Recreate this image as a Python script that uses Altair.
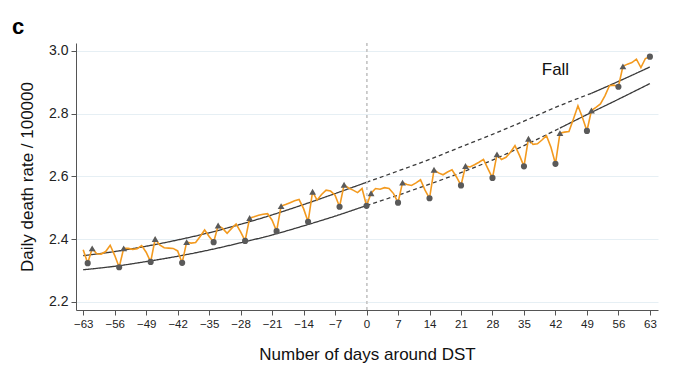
import altair as alt
import pandas as pd

# ---- data ----
days = list(range(-63, 64))
rate = [
    2.366, 2.323, 2.370, 2.353, 2.352, 2.360, 2.380, 2.348, 2.310, 2.370,  # -63..-54
    2.370, 2.367, 2.369, 2.379, 2.358, 2.327, 2.400, 2.381, 2.372, 2.371,  # -53..-44
    2.370, 2.362, 2.324, 2.390, 2.387, 2.389, 2.408, 2.429, 2.408, 2.390,  # -43..-34
    2.443, 2.434, 2.418, 2.434, 2.448, 2.423, 2.394, 2.467, 2.471, 2.476,  # -33..-24
    2.479, 2.481, 2.460, 2.425, 2.505, 2.510, 2.516, 2.522, 2.526, 2.497,  # -23..-14
    2.455, 2.551, 2.524, 2.542, 2.556, 2.553, 2.540, 2.503, 2.573, 2.563,  # -13..-4
    2.556, 2.548, 2.561, 2.506, 2.546, 2.561, 2.559, 2.564, 2.561, 2.545,  # -3..6
    2.516, 2.580, 2.574, 2.571, 2.579, 2.589, 2.556, 2.530, 2.621, 2.611,  # 7..16
    2.605, 2.614, 2.621, 2.598, 2.571, 2.633, 2.630, 2.637, 2.645, 2.654,  # 17..26
    2.624, 2.595, 2.670, 2.654, 2.661, 2.677, 2.698, 2.667, 2.632, 2.720,  # 27..36
    2.702, 2.704, 2.716, 2.730, 2.693, 2.640, 2.738, 2.741, 2.743, 2.783,  # 37..46
    2.825, 2.788, 2.745, 2.810, 2.820, 2.831, 2.857, 2.889, 2.891, 2.886,  # 47..56
    2.951, 2.958, 2.963, 2.974, 2.947, 2.976, 2.982,                       # 57..63
]
circle_days = [-62, -55, -48, -41, -34, -27, -20, -13, -6,
               0, 7, 14, 21, 28, 35, 42, 49, 56, 63]
triangle_days = [-61, -54, -47, -40, -33, -26, -19, -12, -5,
                 1, 8, 15, 22, 29, 36, 43, 50, 57]

upper_days = [-63, -56, -49, -42, -35, -28, -21, -14, -7, 0, 7, 14, 21, 28, 35, 42, 50, 56, 63]
upper_vals = [2.347, 2.360, 2.377, 2.397, 2.420, 2.447, 2.477, 2.510, 2.545, 2.581,
              2.617, 2.654, 2.694, 2.734, 2.776, 2.820, 2.865, 2.903, 2.949]
upper_break = 50
lower_days = [-63, -56, -49, -42, -35, -28, -21, -14, -7, 0, 7, 14, 21, 28, 35, 43, 49, 56, 63]
lower_vals = [2.302, 2.313, 2.328, 2.345, 2.365, 2.388, 2.413, 2.442, 2.473, 2.507,
              2.540, 2.575, 2.612, 2.652, 2.698, 2.754, 2.797, 2.846, 2.896]
lower_break = 43

x_ticks = [-63, -56, -49, -42, -35, -28, -21, -14, -7, 0, 7, 14, 21, 28, 35, 42, 49, 56, 63]
y_ticks = [2.2, 2.4, 2.6, 2.8, 3.0]
annot_text = ["Fall"]
annot_day = [42.0]
annot_val = [2.94]

# ---- tables ----
daily = pd.DataFrame({"day": days, "rate": rate})
circles = daily[daily["day"].isin(circle_days)]
tris = daily[daily["day"].isin(triangle_days)]


def segments(name, ds, vs, brk):
    rows = []
    for d, v in zip(ds, vs):
        if d <= 0:
            rows.append({"seg": name + "_a", "style": "solid", "day": d, "rate": v})
        if 0 <= d <= brk:
            rows.append({"seg": name + "_b", "style": "dashed", "day": d, "rate": v})
        if d >= brk:
            rows.append({"seg": name + "_c", "style": "solid", "day": d, "rate": v})
    return rows


fits = pd.DataFrame(segments("up", upper_days, upper_vals, upper_break)
                    + segments("lo", lower_days, lower_vals, lower_break))
annot = pd.DataFrame({"label": annot_text, "day": annot_day, "rate": annot_val})

FONT = "Liberation Sans"
xscale = alt.Scale(domain=[-64.6, 64.8], nice=False, zero=False)
yscale = alt.Scale(domain=[2.1735, 3.0255], nice=False, zero=False)

X = alt.X("day:Q", scale=xscale,
          axis=alt.Axis(values=x_ticks, tickCount=len(x_ticks) + 1,
                        title="Number of days around DST", grid=False,
                        labelOverlap=False, labelFontSize=11.5, titlePadding=17,
                        tickSize=5, labelPadding=3))
Y = alt.Y("rate:Q", scale=yscale,
          axis=alt.Axis(values=y_ticks, tickCount=len(y_ticks) + 1, format=".1f",
                        title="Daily death rate / 100000",
                        grid=True, gridColor="#e6eff4", labelFontSize=14, labelOverlap=False,
                        titlePadding=12, tickSize=5, labelPadding=3))

fit_lines = alt.Chart(fits).mark_line(color="#3a3a3a", strokeWidth=1.3, interpolate="monotone").encode(
    x=X, y=Y, detail="seg:N",
    strokeDash=alt.StrokeDash("style:N", scale=alt.Scale(domain=["solid", "dashed"],
                                                          range=[[1, 0], [4, 3]]), legend=None))

vline = alt.Chart(daily).mark_rule(color="#c8c8c8", strokeDash=[3, 3], strokeWidth=1).encode(
    x=alt.datum(0))

orange = alt.Chart(daily).mark_line(color="#f39a1f", strokeWidth=1.6).encode(x=X, y=Y)

circ = alt.Chart(circles).mark_point(shape="circle", filled=True, size=38, color="#5a5a5a", opacity=1).encode(x=X, y=Y)
tri = alt.Chart(tris).mark_point(shape="triangle-up", filled=True, size=46, color="#5a5a5a", opacity=1).encode(x=X, y=Y)

fall = alt.Chart(annot).mark_text(font=FONT, fontSize=17, color="#111", align="center").encode(
    x=X, y=Y, text="label:N")

chart = alt.layer(fit_lines, vline, orange, circ, tri, fall).properties(
    width=582, height=267,
    autosize=alt.AutoSizeParams(type="none"),
    padding={"left": 68, "top": 35, "right": 16, "bottom": 56},
    title=alt.TitleParams("c", anchor="start", frame="group", fontSize=22, fontWeight="bold",
                          font=FONT, color="#000", dx=-64, offset=4),
).configure_view(stroke=None).configure_axis(
    labelFont=FONT, titleFont=FONT, labelColor="#222", titleColor="#111",
    titleFontSize=17, titleFontWeight="normal", domainColor="#555", tickColor="#555",
    labelOverlap=False,
)

chart.save("out.html", embed_options={"renderer": "svg", "actions": False})
